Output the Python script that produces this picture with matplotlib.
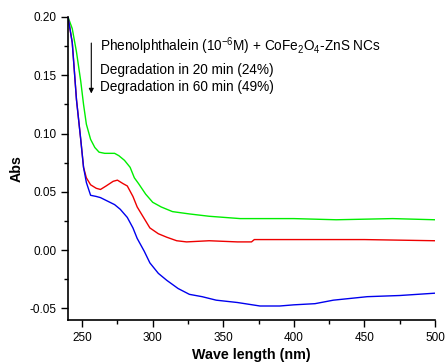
import matplotlib
matplotlib.use("Agg")
import matplotlib.pyplot as plt
from matplotlib.ticker import MultipleLocator, FormatStrFormatter

plt.rcParams['font.family'] = ['Liberation Sans', 'DejaVu Sans']

wl_green = [240, 243, 246, 249, 251, 253, 256, 259, 262, 266, 270, 273, 276, 280, 284, 287, 290, 295, 300, 306, 314, 326, 340, 362, 400, 430, 470, 500]
abs_green = [0.200, 0.190, 0.170, 0.145, 0.125, 0.108, 0.095, 0.088, 0.084, 0.083, 0.083, 0.083, 0.081, 0.077, 0.071, 0.062, 0.057, 0.048, 0.041, 0.037, 0.033, 0.031, 0.029, 0.027, 0.027, 0.026, 0.027, 0.026]

wl_red = [240, 243, 246, 249, 251, 253, 256, 260, 263, 267, 272, 275, 279, 282, 286, 289, 294, 298, 304, 310, 317, 324, 340, 360, 370, 372, 400, 450, 500]
abs_red = [0.200, 0.178, 0.129, 0.095, 0.071, 0.062, 0.056, 0.053, 0.052, 0.055, 0.059, 0.060, 0.057, 0.055, 0.046, 0.037, 0.027, 0.019, 0.014, 0.011, 0.008, 0.007, 0.008, 0.007, 0.007, 0.009, 0.009, 0.009, 0.008]

wl_blue = [240, 243, 246, 249, 251, 253, 256, 260, 263, 268, 273, 277, 282, 286, 289, 294, 298, 304, 310, 318, 326, 335, 345, 360, 376, 390, 400, 415, 428, 452, 475, 500]
abs_blue = [0.200, 0.178, 0.129, 0.095, 0.071, 0.058, 0.047, 0.046, 0.045, 0.042, 0.039, 0.035, 0.028, 0.019, 0.010, -0.001, -0.011, -0.020, -0.026, -0.033, -0.038, -0.040, -0.043, -0.045, -0.048, -0.048, -0.047, -0.046, -0.043, -0.040, -0.039, -0.037]

fig = plt.figure(figsize=(4.46, 3.63), dpi=100)
ax = fig.add_axes([0.1525, 0.1185, 0.8228, 0.8347])

ax.plot(wl_green, abs_green, color='#00ee00', lw=1.0)
ax.plot(wl_red, abs_red, color='#ee0000', lw=1.0)
ax.plot(wl_blue, abs_blue, color='#0000ee', lw=1.0)

ax.set_xlim(240, 500)
ax.set_ylim(-0.06, 0.20)
ax.xaxis.set_major_locator(MultipleLocator(50))
ax.xaxis.set_minor_locator(MultipleLocator(25))
ax.yaxis.set_major_locator(MultipleLocator(0.05))
ax.yaxis.set_minor_locator(MultipleLocator(0.025))
ax.yaxis.set_major_formatter(FormatStrFormatter('%.2f'))
for s in ['top', 'right']:
    ax.spines[s].set_visible(False)
for s in ['left', 'bottom']:
    ax.spines[s].set_linewidth(1.2)
ax.tick_params(which='major', direction='out', length=5, width=1, labelsize=8.5)
ax.tick_params(which='minor', direction='out', length=3, width=1)

ax.set_xlabel('Wave length (nm)', fontsize=10.3, fontweight='bold', labelpad=3)
ax.set_ylabel('Abs', fontsize=10.3, fontweight='bold', labelpad=4)

ax.text(262.5, 0.175, 'Phenolphthalein (10$^{\\mathregular{-6}}$M) + CoFe$_{\\mathregular{2}}$O$_{\\mathregular{4}}$-ZnS NCs',
        fontsize=9.8, va='center', ha='left')
ax.text(262.5, 0.1545, 'Degradation in 20 min (24%)', fontsize=9.8, va='center', ha='left')
ax.text(262.5, 0.140, 'Degradation in 60 min (49%)', fontsize=9.8, va='center', ha='left')
ax.annotate('', xy=(256.5, 0.132), xytext=(256.5, 0.180),
            arrowprops=dict(arrowstyle='-|>', color='black', lw=0.8, mutation_scale=7))

fig.savefig('out.png', dpi=100)
